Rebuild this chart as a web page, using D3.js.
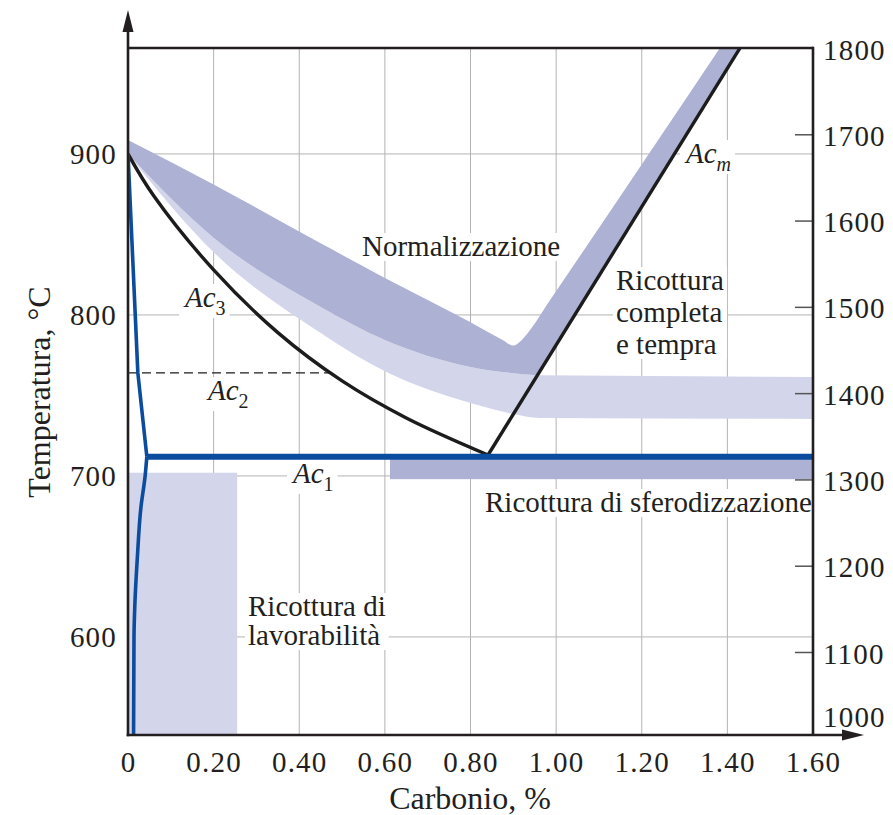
<!DOCTYPE html>
<html>
<head>
<meta charset="utf-8">
<script src="https://cdn.jsdelivr.net/npm/d3@7"></script>
<style>
  body { margin: 0; background: #fff; }
  svg { display: block; }
  text { font-family: "Liberation Serif", "Times New Roman", serif; fill: #231f20; }
</style>
</head>
<body>
<svg id="chart" width="893" height="815"></svg>
<script>
// ---- Axis ticks ----
const carbonTicks = [0, 0.2, 0.4, 0.6, 0.8, 1.0, 1.2, 1.4, 1.6];
const carbonTickLabels = ["0", "0.20", "0.40", "0.60", "0.80", "1.00", "1.20", "1.40", "1.60"];
const celsiusTicks = [600, 700, 800, 900];
const fahrenheitTicks = [1000, 1100, 1200, 1300, 1400, 1500, 1600, 1700, 1800];

// ---- Critical lines, [carbon %, temperature °C] ----
const ac3Curve = [[0, 900], [0.06, 874], [0.2, 828], [0.35, 789], [0.5, 759], [0.65, 736], [0.841, 713]];
const acmLine = [[0.841, 713], [1.43, 966]];
const ac1Temp = 712;
const ac1Start = 0.044;
const ac2Temp = 764;
const ac2End = 0.47;
const a3Solvus = [[0, 900], [0.023, 764], [0.044, 712]];
const ferriteSolvus = [[0.044, 712], [0.040, 700], [0.030, 680], [0.022, 650], [0.016, 620], [0.014, 600], [0.013, 539]];

// ---- Heat-treatment ranges ----
const normUpper = [[0, 908.7], [0.2, 881], [0.45, 844.5], [0.6, 823], [0.8, 795.5], [0.875, 784.5], [0.9, 781], [0.918, 784], [0.932, 788.2], [0.986, 809.3], [1.383, 966]];
const normLower = [[0, 900], [0.2, 848], [0.45, 805], [0.6, 784.5], [0.8, 767.7], [0.956, 762.5]];
const fullAnnealTop = 761.5;
const fullAnnealLower = [[0, 900], [0.2, 839], [0.45, 788.8], [0.6, 765], [0.8, 745.3], [0.9, 738.5], [0.962, 736], [1.6, 735.4]];
const spheroCarbon = [0.612, 1.6];
const spheroTemp = [698, 712];
const machCarbon = [0, 0.255];
const machTemp = [539, 702];

// ---- Layout ----
const L = 128, R = 813, T = 48, B = 735;
const colDark = "#adb2d4", colLight = "#d3d5eb", colBlue = "#0b4c9f", colInk = "#1c1c1c", colAxis = "#231f20", colGrid = "#b3b3b3";

const svg = d3.select("#chart");
const x = d3.scaleLinear().domain([0, 1.6]).range([L, R]);
const y = d3.scaleLinear().domain([539.1, 965.8]).range([B, T]);
const yF = d3.scaleLinear().domain([1003.8, 1800]).range([B, T]);

svg.append("defs").append("clipPath").attr("id", "plot")
  .append("rect").attr("x", L).attr("y", T).attr("width", R - L).attr("height", B - T);

const gridLayer = svg.append("g");
const bgLayer = svg.append("g");
const bandLayer = svg.append("g").attr("clip-path", "url(#plot)");
const lineLayer = svg.append("g").attr("clip-path", "url(#plot)");
const axisLayer = svg.append("g");
const textLayer = svg.append("g");

// grid
gridLayer.selectAll("line.v").data(carbonTicks.slice(1, -1)).join("line")
  .attr("x1", d => x(d)).attr("x2", d => x(d)).attr("y1", T).attr("y2", B)
  .attr("stroke", colGrid).attr("stroke-width", 1);
gridLayer.selectAll("line.h").data(celsiusTicks).join("line")
  .attr("x1", L).attr("x2", R).attr("y1", d => y(d)).attr("y2", d => y(d))
  .attr("stroke", colGrid).attr("stroke-width", 1);

// path helpers
const smooth = d3.curveMonotoneX;
const seg = (pts, curve) => d3.line().x(d => x(d[0])).y(d => y(d[1])).curve(curve || d3.curveLinear)(pts);
const joinSegs = segs => segs[0] + segs.slice(1).map(s => s.replace(/^M/, "L")).join("") + "Z";

// full annealing / hardening band
bandLayer.append("path")
  .attr("d", joinSegs([
    seg(normLower, smooth),
    seg([[1.6, fullAnnealTop], [1.6, fullAnnealLower[fullAnnealLower.length - 1][1]]]),
    seg(fullAnnealLower.slice().reverse(), smooth)
  ]))
  .attr("fill", colLight);

// machinability annealing box
bandLayer.append("rect")
  .attr("x", x(machCarbon[0])).attr("width", x(machCarbon[1]) - x(machCarbon[0]))
  .attr("y", y(machTemp[1])).attr("height", y(machTemp[0]) - y(machTemp[1]))
  .attr("fill", colLight);

// spheroidizing band
bandLayer.append("rect")
  .attr("x", x(spheroCarbon[0])).attr("width", x(spheroCarbon[1]) - x(spheroCarbon[0]))
  .attr("y", y(spheroTemp[1])).attr("height", y(spheroTemp[0]) - y(spheroTemp[1]))
  .attr("fill", colDark);

// normalizing band
bandLayer.append("path")
  .attr("d", joinSegs([
    seg(normUpper, smooth),
    seg([[1.383, 966], acmLine[1], normLower[normLower.length - 1]]),
    seg(normLower.slice().reverse(), smooth)
  ]))
  .attr("fill", colDark);

// Ac2 dashed
lineLayer.append("line")
  .attr("x1", x(0)).attr("x2", x(ac2End)).attr("y1", y(ac2Temp)).attr("y2", y(ac2Temp))
  .attr("stroke", colInk).attr("stroke-width", 1.2).attr("stroke-dasharray", "9,5");

// Ac3 + Acm
lineLayer.append("path").attr("d", seg(ac3Curve, d3.curveCatmullRom))
  .attr("fill", "none").attr("stroke", colInk).attr("stroke-width", 3.4);
lineLayer.append("path").attr("d", seg(acmLine))
  .attr("fill", "none").attr("stroke", colInk).attr("stroke-width", 3.4);

// blue lines
lineLayer.append("path").attr("d", seg(a3Solvus))
  .attr("fill", "none").attr("stroke", colBlue).attr("stroke-width", 3.6);
lineLayer.append("path").attr("d", seg(ferriteSolvus, d3.curveMonotoneY))
  .attr("fill", "none").attr("stroke", colBlue).attr("stroke-width", 3.6);
lineLayer.append("line")
  .attr("x1", x(ac1Start)).attr("x2", x(1.6)).attr("y1", y(ac1Temp)).attr("y2", y(ac1Temp))
  .attr("stroke", colBlue).attr("stroke-width", 6);

// ---- axes ----
const fontTick = 29;
const xAxis = axisLayer.append("g").attr("transform", `translate(0,${B})`)
  .call(d3.axisBottom(x).tickValues(carbonTicks).tickFormat((d, i) => carbonTickLabels[i]).tickSize(0).tickPadding(16.5));
const yAxis = axisLayer.append("g").attr("transform", `translate(${L},0)`)
  .call(d3.axisLeft(y).tickValues(celsiusTicks).tickFormat(d3.format("d")).tickSize(0).tickPadding(11));
const fAxis = axisLayer.append("g").attr("transform", `translate(${R},0)`)
  .call(d3.axisRight(yF).tickValues(fahrenheitTicks).tickFormat(d3.format("d")).tickSizeInner(-18).tickSizeOuter(0).tickPadding(10));

[xAxis, yAxis, fAxis].forEach(g => {
  g.select(".domain").remove();
  g.attr("font-family", null).attr("font-size", null);
  g.selectAll("text").attr("font-size", fontTick).attr("letter-spacing", 1.2).attr("fill", colAxis);
});
fAxis.selectAll(".tick line").attr("stroke", "#555").attr("stroke-width", 1.5)
  .attr("display", d => (d === 1000 || d === 1800) ? "none" : null);
fAxis.selectAll(".tick text").attr("dy", "0.38em");
fAxis.selectAll(".tick").filter(d => d === 1000).select("text").attr("dy", "-0.42em");

// frame and arrows
const frame = axisLayer.append("g").attr("stroke", colAxis).attr("stroke-width", 2.6).attr("fill", "none");
frame.append("line").attr("x1", L).attr("x2", L).attr("y1", B + 1.3).attr("y2", 28);
frame.append("line").attr("x1", L - 1.3).attr("x2", 846).attr("y1", B).attr("y2", B);
frame.append("line").attr("x1", L).attr("x2", R).attr("y1", T).attr("y2", T);
frame.append("line").attr("x1", R).attr("x2", R).attr("y1", T - 1.3).attr("y2", B);
axisLayer.append("path").attr("d", `M${L},10 L${L - 5.5},32 L${L + 5.5},32 Z`).attr("fill", colAxis);
axisLayer.append("path").attr("d", `M864,${B} L842,${B - 5.5} L842,${B + 5.5} Z`).attr("fill", colAxis);

// axis titles
textLayer.append("text").attr("x", 470).attr("y", 809).attr("text-anchor", "middle")
  .attr("font-size", 32).text("Carbonio, %");
textLayer.append("text").attr("transform", "translate(50,392) rotate(-90)").attr("text-anchor", "middle")
  .attr("font-size", 32).text("Temperatura, °C");

// ---- region and line labels (white backing hides grid) ----
const fontLab = 29;
function backing(t, pad) {
  const b = t.node().getBBox();
  bgLayer.append("rect").attr("x", b.x - pad).attr("y", b.y + 3).attr("width", b.width + 2 * pad)
    .attr("height", b.height - 4).attr("fill", "#fff");
}
function block(x0, y0, lines, lh) {
  const t = textLayer.append("text").attr("x", x0).attr("y", y0).attr("font-size", fontLab);
  lines.forEach((s, i) => t.append("tspan").attr("x", x0).attr("dy", i ? lh : 0).text(s));
  backing(t, 3);
  return t;
}
function crit(x0, y0, sub, subItalic) {
  const t = textLayer.append("text").attr("x", x0).attr("y", y0).attr("font-size", fontLab);
  t.append("tspan").attr("font-style", "italic").text("Ac");
  t.append("tspan").attr("font-size", 20).attr("dy", 8).attr("font-style", subItalic ? "italic" : null).text(sub);
  backing(t, 4);
}

block(362, 256, ["Normalizzazione"], 0);
block(616, 290, ["Ricottura", "completa", "e tempra"], 32);
block(485, 512, ["Ricottura di sferodizzazione"], 0);
block(248, 616, ["Ricottura di", "lavorabilità"], 29);
crit(185, 307, "3", false);
crit(208, 400, "2", false);
crit(293, 483, "1", false);
crit(686, 163, "m", true);
</script>
</body>
</html>
